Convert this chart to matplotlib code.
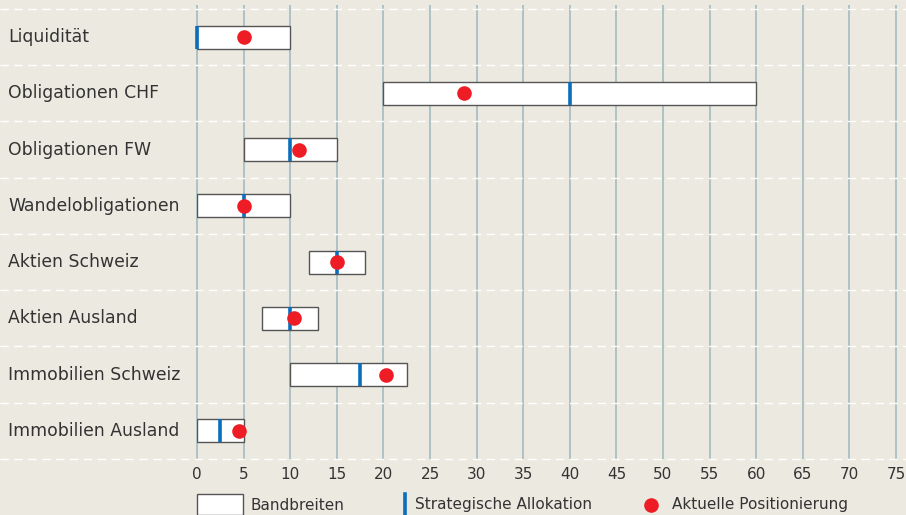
import matplotlib.pyplot as plt
from matplotlib.patches import Rectangle
from matplotlib.lines import Line2D
from matplotlib.transforms import blended_transform_factory

# Daten
categories = ['Liquidität', 'Obligationen CHF', 'Obligationen FW', 'Wandelobligationen',
              'Aktien Schweiz', 'Aktien Ausland', 'Immobilien Schweiz', 'Immobilien Ausland']
band_low = [0, 20, 5, 0, 12, 7, 10, 0]
band_high = [10, 60, 15, 10, 18, 13, 22.5, 5]
strategic = [0, 40, 10, 5, 15, 10, 17.5, 2.5]
current = [5, 28.6, 10.9, 5, 15, 10.4, 20.3, 4.5]
x_ticks = list(range(0, 80, 5))
legend_labels = ['Bandbreiten', 'Strategische Allokation', 'Aktuelle Positionierung']

bg = '#ECE9E0'
grid_col = '#9DB8BF'
blue = '#0A6EBD'
red = '#EE1C25'
text_col = '#333333'

W, H = 906, 515
plt.rcParams['font.family'] = ['DejaVu Sans']
fig = plt.figure(figsize=(W / 100, H / 100), dpi=100)
fig.patch.set_facecolor(bg)

ax = fig.add_axes([197 / W, 1 - 459 / H, 1 - 197 / W, (459 - 5) / H])
ax.set_facecolor(bg)
for s in ax.spines.values():
    s.set_visible(False)

px = 9.32  # Pixel pro Einheit
xmax = (W - 197) / px
n = len(categories)
ax.set_xlim(0, xmax)
ax.set_ylim(n - 0.5, -0.57)

# vertikale Gitterlinien
ax.vlines(x_ticks, n - 0.5, -0.57, color=grid_col, lw=1.1, zorder=1, clip_on=False)

# gestrichelte Trennlinien über die ganze Breite
for k in range(n + 1):
    y = k - 0.5
    ax.plot([-197 / px, xmax], [y, y], color='white', lw=1, ls=(0, (6, 4)),
            clip_on=False, zorder=1)

trans = blended_transform_factory(fig.transFigure, ax.transData)
h = 0.41
for i, cat in enumerate(categories):
    ax.add_patch(Rectangle((band_low[i], i - h / 2), band_high[i] - band_low[i], h,
                           facecolor='white', edgecolor='#555555', lw=1, zorder=2))
    ax.plot([strategic[i], strategic[i]], [i - h / 2, i + h / 2], color=blue, lw=2.6,
            solid_capstyle='butt', zorder=3, clip_on=False)
    ax.plot(current[i], i, 'o', color=red, ms=10.5, mec='none', zorder=4)
    ax.text(8 / W, i, cat, transform=trans, fontsize=12.4, color=text_col,
            ha='left', va='center')

ax.set_yticks([])
ax.set_xticks(x_ticks)
ax.set_xticklabels([str(t) for t in x_ticks], fontsize=11, color=text_col)
ax.tick_params(axis='x', length=0, pad=6)

# Legende (manuell, in Figurkoordinaten)
ly = 1 - 505 / H
fig.patches.append(Rectangle((197 / W, 0), 46 / W, 21 / H, transform=fig.transFigure,
                             facecolor='white', edgecolor='#555555', lw=1))
fig.text(250 / W, ly, legend_labels[0], fontsize=11, color=text_col, va='center')
fig.add_artist(Line2D([405 / W, 405 / W], [0, 21 / H], color=blue, lw=2.6,
                      transform=fig.transFigure))
fig.text(415 / W, ly, legend_labels[1], fontsize=11, color=text_col, va='center')
fig.add_artist(Line2D([651 / W], [ly], marker='o', color=red, ms=10.5, mec='none',
                      transform=fig.transFigure))
fig.text(672 / W, ly, legend_labels[2], fontsize=11, color=text_col, va='center')

fig.savefig('out.png', dpi=100, facecolor=bg)
